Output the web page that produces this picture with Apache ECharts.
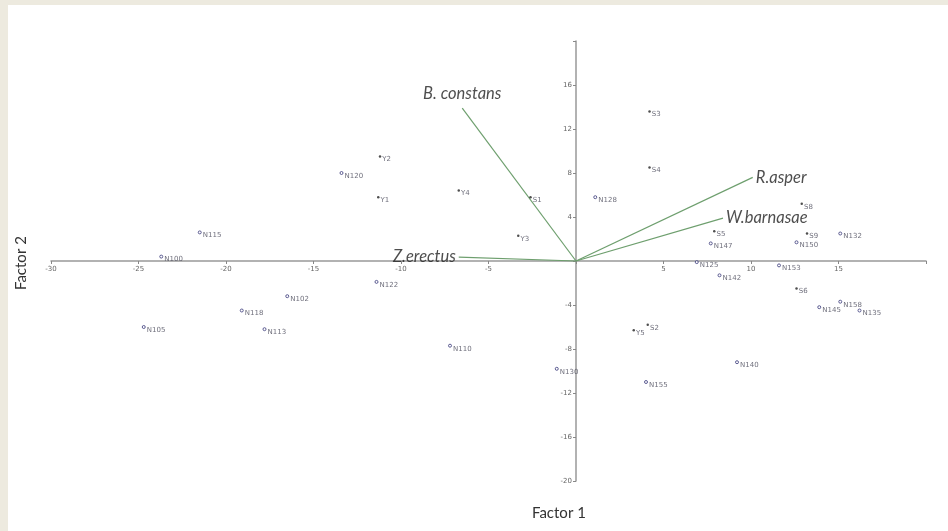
<!DOCTYPE html>
<html>
<head>
<meta charset="utf-8">
<script src="https://cdn.jsdelivr.net/npm/echarts@6/dist/echarts.min.js"></script>
<style>
html,body{margin:0;padding:0;background:#EDEADF;width:948px;height:531px;overflow:hidden;}
#bg{position:absolute;left:8px;top:5px;right:0;bottom:0;background:#fff;}
#c{position:absolute;left:0;top:0;width:948px;height:531px;}
</style>
</head>
<body>
<div id="bg"></div>
<div id="c"></div>
<script>
// Sites with "N" codes
const nNames = ['N115','N100','N102','N118','N105','N113','N120','N128','N122','N132','N147','N150','N125','N142','N153','N145','N158','N135','N140','N155','N110','N130'];
const nX = [-21.5,-23.7,-16.5,-19.1,-24.7,-17.8,-13.4,1.1,-11.4,15.1,7.7,12.6,6.9,8.2,11.6,13.9,15.1,16.2,9.2,4.0,-7.2,-1.1];
const nY = [2.6,0.4,-3.2,-4.5,-6.0,-6.2,8.0,5.8,-1.9,2.5,1.6,1.7,-0.1,-1.3,-0.4,-4.2,-3.7,-4.5,-9.2,-11.0,-7.7,-9.8];
// Sites with "S"/"Y" codes
const sNames = ['Y2','Y1','Y4','S1','Y3','S3','S4','S8','S5','S9','S6','Y5','S2'];
const sX = [-11.2,-11.3,-6.7,-2.6,-3.3,4.2,4.2,12.9,7.9,13.2,12.6,3.3,4.1];
const sY = [9.5,5.8,6.4,5.8,2.3,13.6,8.5,5.2,2.7,2.5,-2.5,-6.3,-5.8];
// Species vectors
const vecNames = ['B. constans','Z.erectus','R.asper','W.barnasae'];
const vecX = [-6.5,-6.7,10.1,8.4];
const vecY = [13.9,0.35,7.6,3.9];
const vecLabelPos = ['top','left','right','right'];
// Axis ranges and hidden tick labels
const xMin = -30, xMax = 20, xStep = 5;
const yMin = -20, yMax = 20, yStep = 4;
const xTicksHidden = [0,20];
const yTicksHidden = [0,20];

const W = 948, H = 531;
const G = {left:51, right:22, top:41, bottom:50};
const plotW = W - G.left - G.right, plotH = H - G.top - G.bottom;
// offsets so the axes pass through the origin
const yAxisOffset = -((0 - xMin) / (xMax - xMin)) * plotW;
const xAxisOffset = -((0 - yMin) / (yMax - yMin)) * plotH;

const chart = echarts.init(document.getElementById('c'), null, {renderer:'canvas'});

function pts(names, xs, ys){
  return names.map((n,i)=>({name:n, value:[xs[i], ys[i]]}));
}
const ptLabel = {show:true, position:'right', distance:1, offset:[0,3], fontSize:7, color:'#4a4a5a', fontFamily:'DejaVu Sans', formatter:p=>p.name};

const series = [];
vecNames.forEach((n,i)=>{
  series.push({
    type:'line', silent:true, symbol:'none', z:3,
    lineStyle:{color:'#6e9f6e', width:1.2},
    data:[[0,0],[vecX[i], vecY[i]]]
  });
  series.push({
    type:'scatter', silent:true, symbolSize:0, z:4,
    data:[{name:n, value:[vecX[i], vecY[i]]}],
    label:{show:true, position:vecLabelPos[i], distance: vecLabelPos[i]==='top'?6:3, formatter:p=>p.name,
      fontSize:16.5, fontStyle:'italic', fontFamily:'Lato', color:'#222'}
  });
});
series.push({
  type:'scatter', symbol:'circle', symbolSize:3, z:5,
  itemStyle:{color:'#fff', borderColor:'#3a3a7a', borderWidth:1},
  data:pts(nNames,nX,nY), label:ptLabel
});
series.push({
  type:'scatter', symbol:'circle', symbolSize:2.5, z:5,
  itemStyle:{color:'#222'},
  data:pts(sNames,sX,sY), label:ptLabel
});

chart.setOption({
  backgroundColor:'transparent',
  animation:false,
  grid:{left:G.left, right:G.right, top:G.top, bottom:G.bottom, containLabel:false},
  xAxis:{
    type:'value', min:xMin, max:xMax, interval:xStep, position:'bottom', offset:xAxisOffset,
    axisLine:{onZero:false, lineStyle:{color:'#999', width:1.5}},
    axisTick:{show:true, length:3, lineStyle:{color:'#888'}},
    splitLine:{show:false},
    axisLabel:{fontSize:7, color:'#666', fontFamily:'DejaVu Sans', margin:5,
      formatter:v=>xTicksHidden.includes(v)?'':String(v)}
  },
  yAxis:{
    type:'value', min:yMin, max:yMax, interval:yStep, position:'left', offset:yAxisOffset,
    axisLine:{onZero:false, lineStyle:{color:'#999', width:1.5}},
    axisTick:{show:true, length:3, lineStyle:{color:'#888'}},
    splitLine:{show:false},
    axisLabel:{fontSize:7, color:'#666', fontFamily:'DejaVu Sans', margin:4,
      formatter:v=>yTicksHidden.includes(v)?'':String(v)}
  },
  graphic:[
    {type:'text', left:532, top:506, style:{text:'Factor 1', fontSize:15, fontFamily:'Lato', fill:'#333'}},
    {type:'text', x:14, y:290, rotation:Math.PI/2, style:{text:'Factor 2', fontSize:15, fontFamily:'Lato', fill:'#333'}}
  ],
  series:series
});
</script>
</body>
</html>
